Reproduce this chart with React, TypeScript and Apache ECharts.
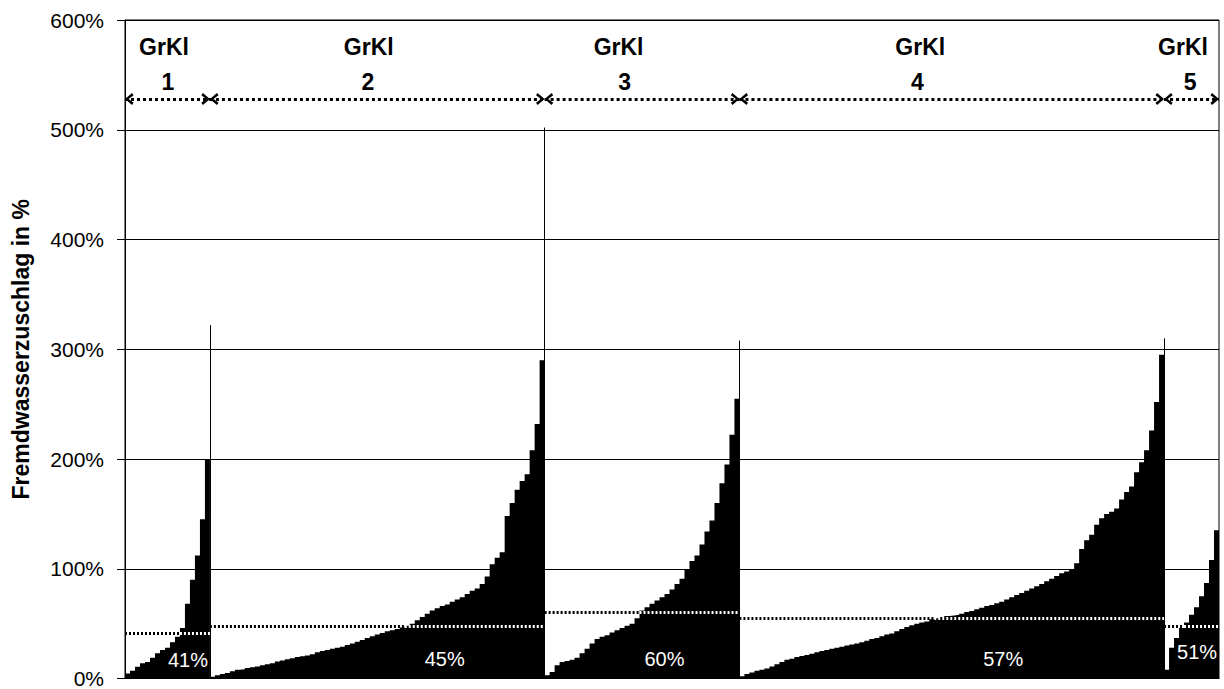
import React, { useEffect, useRef } from "react";
import * as echarts from "echarts";

// ---- data (Fremdwasserzuschlag in %, sorted per Größenklasse) ----
const groupIds = ["1", "2", "3", "4", "5"];
const groupTitle = "GrKl";
const yAxisTitle = "Fremdwasserzuschlag in %";

const grkl1 = [4.5, 7, 10.6, 14, 15, 19, 23, 26, 28, 33, 38, 46, 68, 90, 112, 145, 200];
const grkl2 = [
  1.5, 3, 4, 5, 6.5, 8, 8.5, 9.5, 10.3, 11,
  12, 13, 14, 15.5, 16.5, 17.5, 18.5, 19.5, 20.3, 21,
  22, 24, 25, 26, 27, 28, 29, 30.5, 32, 33.5,
  35, 37, 38.5, 40, 41.5, 43, 44, 45, 46.5, 48,
  50, 53, 56, 59, 62, 64, 66, 67.5, 70, 72,
  74, 77, 80, 82, 86, 93, 104, 110, 115, 148,
  160, 172, 180, 186, 208, 232, 290,
];
const grkl3 = [
  3, 6, 12, 15, 16, 17, 19, 23, 27, 32,
  36, 38, 39.5, 42, 44, 46, 48, 50, 55, 62,
  65, 68, 71, 74, 77, 81, 86, 91, 99, 107,
  112, 122, 134, 144, 160, 178, 195, 222, 255,
];
const grkl4 = [
  2, 4, 5.5, 7, 8, 9, 11, 13, 15, 17,
  18, 19.5, 20.5, 21.5, 22.5, 24, 25, 26, 27, 28,
  29, 30, 31, 32, 33, 34.5, 36, 37, 38.5, 40,
  41, 43, 45, 47, 48.5, 50, 51, 52, 54, 55,
  56, 57, 57.5, 58, 59, 60.5, 61.5, 63, 64.5, 66,
  67, 68.5, 70, 72, 74, 76, 78, 80, 82, 84,
  86, 88.5, 91, 93.5, 96, 97.5, 99, 105, 118, 126,
  131, 140, 146, 150, 152, 155, 163, 170, 175, 188,
  197, 208, 226, 252, 295,
];
const grkl5 = [8, 28, 37, 46, 51, 58, 65, 75, 87, 108, 135];

// maximum value of each class (thin spike at the class end)
const groupPeak = [322, 502, 308, 310];
// mean level drawn as dotted line, and printed mean
const groupMeanLine = [41.5, 48, 60, 55, 48];
const groupMeanLabel = ["41%", "45%", "60%", "57%", "51%"];

// y-axis ticks
const yMin = 0;
const yMax = 600;
const yStep = 100;

// ---- annotation anchors (data units: x = plant rank, y = %) ----
const titleX = [7.8, 48.8, 98.8, 159.2, 211.8];
const idX = [8.6, 48.6, 100, 158.6, 213.2];
const titleY = 575;
const idY = 543.6;
const arrowY = 528;
const meanLabelX = [12.6, 64, 108, 175.8, 214.6];
const meanLabelY = [17, 18, 17.7, 17.7, 24.5];

const FONT = 'Arial, "Liberation Sans", sans-serif';
// open chevron whose tip sits at the centre of its (square) bounding box
const CHEVRON =
  "path://M9,9 L15,16 L12.8,17.6 L9,12.6 L5.2,17.6 L3,16 Z " +
  "M0,0 L0.01,0 L0,0.01 Z M18,18 L17.99,18 L18,17.99 Z";

export default function App() {
  const ref = useRef<HTMLDivElement>(null);

  useEffect(() => {
    if (!ref.current) return;
    const chart = echarts.init(ref.current, null, { renderer: "svg" });

    const groups = [grkl1, grkl2, grkl3, grkl4, grkl5];
    const starts: number[] = [];
    let acc = 0;
    groups.forEach((g) => {
      starts.push(acc);
      acc += g.length;
    });
    const total = acc;

    const areaSeries = groups.map((vals, i) => ({
      type: "line",
      name: "GrKl " + groupIds[i],
      step: "end",
      symbol: "none",
      silent: true,
      z: 2,
      data: [
        ...vals.map((v, k) => [starts[i] + k, v]),
        [starts[i] + vals.length, vals[vals.length - 1]],
      ],
      lineStyle: { width: 0, color: "#000" },
      areaStyle: { color: "#000", opacity: 1 },
    }));

    const meanLines: any[] = [];
    groups.forEach((vals, i) => {
      const s = starts[i];
      const e = s + vals.length;
      const m = groupMeanLine[i];
      let c = vals.findIndex((v) => v >= m);
      if (c < 0) c = vals.length;
      if (c > 0)
        meanLines.push([
          { coord: [s, m], lineStyle: { color: "#000" } },
          { coord: [s + c, m], lineStyle: { color: "#000" } },
        ]);
      if (c < vals.length)
        meanLines.push([
          { coord: [s + c, m], lineStyle: { color: "#fff" } },
          { coord: [e, m], lineStyle: { color: "#fff" } },
        ]);
    });

    const separators = groupPeak.map((p, i) => [
      { coord: [starts[i] + groups[i].length, 0] },
      { coord: [starts[i] + groups[i].length, p] },
    ]);

    const arrows = groups.map((vals, i) => [
      { coord: [starts[i], arrowY] },
      { coord: [starts[i] + vals.length, arrowY] },
    ]);

    const textItems: any[] = [];
    groupIds.forEach((id, i) => {
      textItems.push({
        value: [titleX[i], titleY],
        label: { formatter: groupTitle, fontSize: 23, fontWeight: "bold", color: "#000" },
      });
      textItems.push({
        value: [idX[i], idY],
        label: { formatter: id, fontSize: 23, fontWeight: "bold", color: "#000" },
      });
      textItems.push({
        value: [meanLabelX[i], meanLabelY[i]],
        label: { formatter: groupMeanLabel[i], fontSize: 20, color: "#ffffff" },
      });
    });

    chart.setOption({
      animation: false,
      textStyle: { fontFamily: FONT },
      grid: {
        left: 125,
        top: 20,
        width: 1094,
        height: 660,
        show: true,
        borderColor: "#000",
        borderWidth: 1,
      },
      xAxis: {
        type: "value",
        min: 0,
        max: total,
        axisLine: { show: true, lineStyle: { color: "#000", width: 1 } },
        axisTick: { show: false },
        axisLabel: { show: false },
        splitLine: { show: false },
      },
      yAxis: {
        type: "value",
        min: yMin,
        max: yMax,
        interval: yStep,
        name: yAxisTitle,
        nameLocation: "middle",
        nameRotate: 90,
        nameGap: 93,
        nameTextStyle: { fontFamily: FONT, fontSize: 23, fontWeight: "bold", color: "#000" },
        axisLine: { show: true, lineStyle: { color: "#000", width: 1 } },
        axisTick: { show: true, inside: false, length: 8, lineStyle: { color: "#000" } },
        axisLabel: {
          formatter: "{value}%",
          fontFamily: FONT,
          fontSize: 21,
          color: "#000",
          margin: 21,
        },
        splitLine: { show: true, lineStyle: { color: "#000", width: 1 } },
      },
      series: [
        ...areaSeries,
        {
          type: "line",
          data: [],
          silent: true,
          z: 5,
          markLine: {
            silent: true,
            symbol: "none",
            label: { show: false },
            lineStyle: { type: [2, 2], width: 3 },
            data: meanLines,
          },
        },
        {
          type: "line",
          data: [],
          silent: true,
          z: 6,
          markLine: {
            silent: true,
            symbol: "none",
            label: { show: false },
            lineStyle: { type: "solid", width: 1, color: "#000" },
            data: separators,
          },
        },
        {
          type: "line",
          data: [],
          silent: true,
          z: 6,
          markLine: {
            silent: true,
            symbol: [CHEVRON, CHEVRON],
            symbolSize: 18,
            label: { show: false },
            lineStyle: { type: [3, 3], width: 3, color: "#000" },
            itemStyle: { color: "#000" },
            data: arrows,
          },
        },
        {
          type: "scatter",
          silent: true,
          z: 10,
          symbol: "circle",
          symbolSize: 1,
          itemStyle: { color: "rgba(0,0,0,0)", opacity: 1 },
          label: { show: true, position: "inside", fontFamily: FONT },
          data: textItems,
        },
      ],
    });

    return () => chart.dispose();
  }, []);

  return (
    <div
      ref={ref}
      style={{ position: "fixed", left: 0, top: 0, width: 1224, height: 689, background: "#fff" }}
    />
  );
}
